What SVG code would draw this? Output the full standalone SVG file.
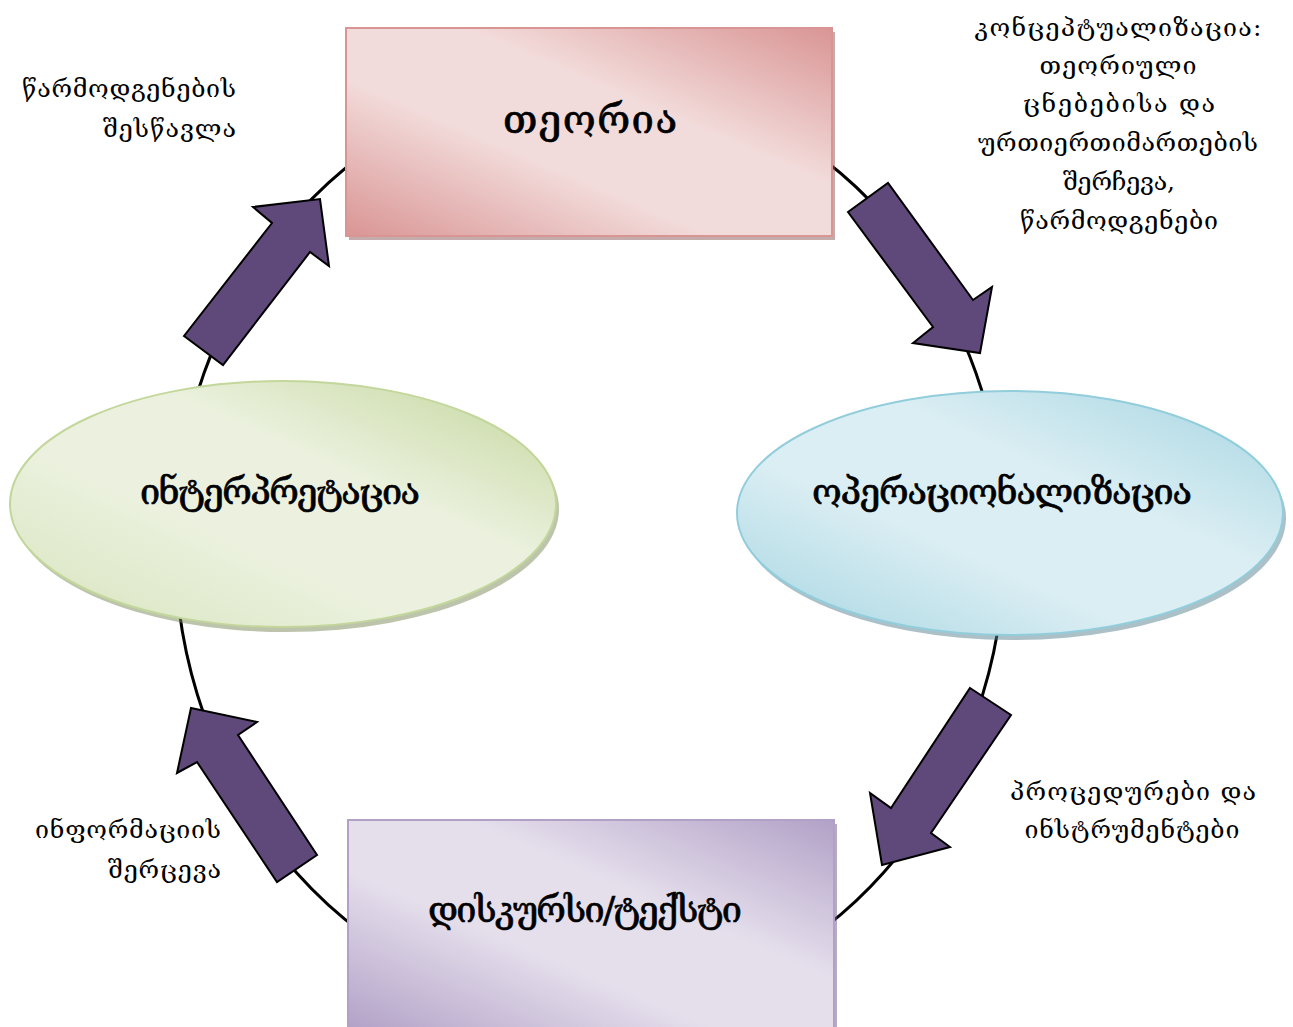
<svg xmlns="http://www.w3.org/2000/svg" width="1293" height="1027" viewBox="0 0 1293 1027">
<defs>
<linearGradient id="gRed" x1="0" y1="1" x2="1" y2="0">
<stop offset="0" stop-color="#d99594"/><stop offset="0.38" stop-color="#f2dcdb"/><stop offset="0.62" stop-color="#f2dcdb"/><stop offset="1" stop-color="#d99594"/>
</linearGradient>
<linearGradient id="gPur" x1="0" y1="1" x2="1" y2="0">
<stop offset="0" stop-color="#b2a1c7"/><stop offset="0.38" stop-color="#e5dfec"/><stop offset="0.62" stop-color="#e5dfec"/><stop offset="1" stop-color="#b2a1c7"/>
</linearGradient>
<linearGradient id="gGrn" x1="0" y1="1" x2="1" y2="0">
<stop offset="0" stop-color="#d7e4bd"/><stop offset="0.38" stop-color="#ebf1de"/><stop offset="0.62" stop-color="#ebf1de"/><stop offset="1" stop-color="#c3d69b"/>
</linearGradient>
<linearGradient id="gBlu" x1="0" y1="1" x2="1" y2="0">
<stop offset="0" stop-color="#a5d5e2"/><stop offset="0.38" stop-color="#dbeef3"/><stop offset="0.62" stop-color="#dbeef3"/><stop offset="1" stop-color="#a5d5e2"/>
</linearGradient>
</defs>
<style>
.ring{fill:none;stroke:#000;stroke-width:3}
.arr{fill:#5f497a;stroke:#000;stroke-width:2;stroke-linejoin:miter}
.title{font-family:"DejaVu Serif","DejaVu Sans",serif;font-size:36px;fill:#000;stroke:#000;stroke-width:0.7;text-anchor:middle}
.lbl{font-family:"DejaVu Serif","DejaVu Sans",serif;font-size:25px;fill:#000}
.shadow{opacity:0.5}
</style>
<rect width="1293" height="1027" fill="#fff"/>
<g id="connectors">
<ellipse class="ring" cx="590" cy="544" rx="415" ry="465"/>
<polygon class="arr" points="848,212 888,183 973,300 992,287 980,353 913,343 933,327"/>
<polygon class="arr" points="184,336 223,365 310,252 329,266 320,199 253,207 272,223"/>
<polygon class="arr" points="970,688 1011,715 931,833 950,847 882,865 870,793 891,808"/>
<polygon class="arr" points="191,708 257,722 238,735 317,855 277,882 197,762 177,773"/>
</g>
<g id="theory">
<rect class="shadow" x="349" y="32" width="486" height="208" fill="#8c5a5a"/>
<rect x="346" y="28" width="486" height="208" fill="url(#gRed)" stroke="#d99594" stroke-width="2"/>
<text class="title" x="590" y="133" textLength="174" style="font-size:40px">თეორია</text>
</g>
<g id="discourse">
<rect class="shadow" x="351" y="824" width="486" height="210" fill="#6e5a80"/>
<rect x="348" y="820" width="486" height="210" fill="url(#gPur)" stroke="#b2a1c7" stroke-width="2"/>
<text class="title" x="585" y="922" textLength="314">დისკურსი/ტექსტი</text>
</g>
<g id="interpretation">
<ellipse class="shadow" cx="286" cy="509" rx="273" ry="123" fill="#7a8a5a"/>
<ellipse cx="283" cy="504" rx="273" ry="123" fill="url(#gGrn)" stroke="#c3d69b" stroke-width="2"/>
<text class="title" x="280" y="504" textLength="280">ინტერპრეტაცია</text>
</g>
<g id="operationalization">
<ellipse class="shadow" cx="1013" cy="518" rx="273" ry="122" fill="#5a8290"/>
<ellipse cx="1010" cy="513" rx="273" ry="122" fill="url(#gBlu)" stroke="#92cddc" stroke-width="2"/>
<text class="title" x="1002" y="504" textLength="380">ოპერაციონალიზაცია</text>
</g>
<g id="labels">
<text class="lbl" text-anchor="end" x="236" y="97" textLength="214">წარმოდგენების</text>
<text class="lbl" text-anchor="end" x="236" y="137" textLength="133">შესწავლა</text>
<text class="lbl" text-anchor="middle" x="1118" y="36" textLength="287">კონცეპტუალიზაცია:</text>
<text class="lbl" text-anchor="middle" x="1118" y="74" textLength="157">თეორიული</text>
<text class="lbl" text-anchor="middle" x="1119" y="112" textLength="192">ცნებებისა  და</text>
<text class="lbl" text-anchor="middle" x="1118" y="151" textLength="280">ურთიერთიმართების</text>
<text class="lbl" text-anchor="middle" x="1119" y="190" textLength="112">შერჩევა,</text>
<text class="lbl" text-anchor="middle" x="1119" y="229" textLength="198">წარმოდგენები</text>
<text class="lbl" text-anchor="middle" x="1133" y="800" textLength="246">პროცედურები  და</text>
<text class="lbl" text-anchor="middle" x="1132" y="838" textLength="215">ინსტრუმენტები</text>
<text class="lbl" text-anchor="end" x="221" y="838" textLength="186">ინფორმაციის</text>
<text class="lbl" text-anchor="end" x="221" y="878" textLength="113">შერცევა</text>
</g>
</svg>
